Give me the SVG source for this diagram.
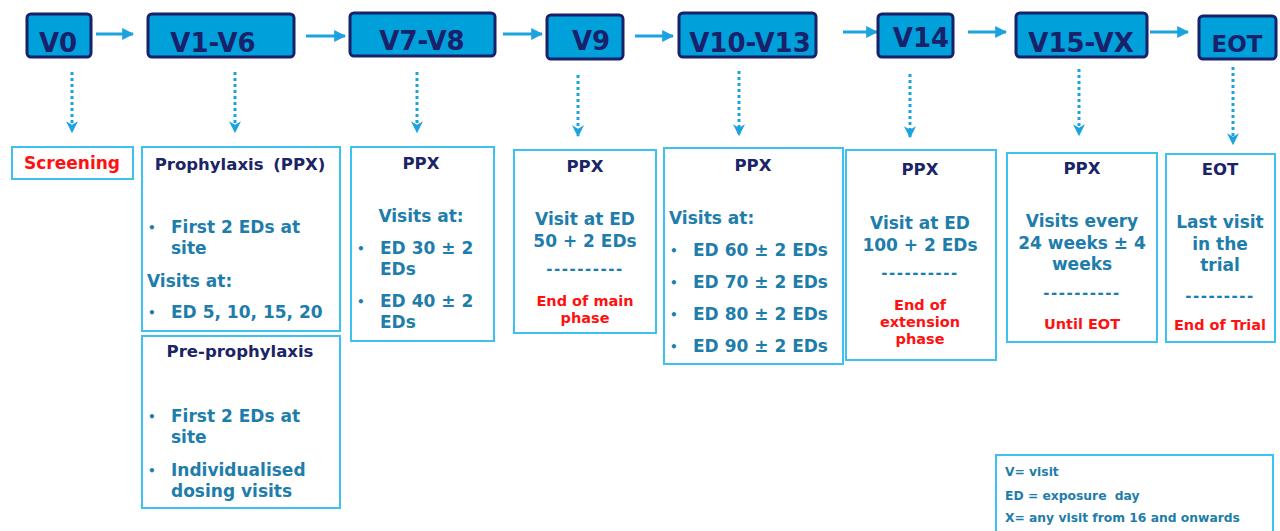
<svg xmlns="http://www.w3.org/2000/svg" width="1280" height="531" viewBox="0 0 1280 531">
  <style>
    text { font-family: "DejaVu Sans", Verdana, sans-serif; font-weight: bold; }
    .visit rect { fill: #00A0DA; stroke: #19216B; stroke-width: 3; }
    .visit text { fill: #19216B; font-size: 26px; text-anchor: middle; }
    .card { fill: #ffffff; stroke: #3DC1F0; stroke-width: 2; }
    .title { fill: #1B2466; font-size: 16.5px; text-anchor: middle; }
    .body { fill: #1E7DAA; font-size: 17px; }
    .mid { text-anchor: middle; }
    .red { fill: #FF1111; font-size: 14.5px; text-anchor: middle; }
    .dot { fill: #1E7DAA; font-size: 12px; }
    .sep { fill: #1E7DAA; font-size: 15px; letter-spacing: 1.5px; text-anchor: middle; }
    .legend { fill: #1E7DAA; font-size: 12.3px; }
    .flow { stroke: #1AA3DE; stroke-width: 3; fill: none; }
    .drop { stroke: #1AA3DE; stroke-width: 3; fill: none; stroke-dasharray: 3 3; }
  </style>
  <defs>
    <marker id="head" viewBox="0 0 10 10" refX="9" refY="5" markerWidth="4" markerHeight="4" orient="auto" markerUnits="strokeWidth">
      <path d="M0,0 L10,5 L0,10 z" fill="#1AA3DE"/>
    </marker>
    <marker id="dhead" viewBox="0 0 10 10" refX="9" refY="5" markerWidth="4" markerHeight="4" orient="auto" markerUnits="strokeWidth">
      <path d="M0,0 L10,5 L0,10 L3,5 z" fill="#1AA3DE"/>
    </marker>
  </defs>

  <rect width="1280" height="531" fill="#ffffff"/>

  <!-- connectors -->
  <g id="connectors">
    <line class="flow" x1="96" y1="34" x2="133" y2="34" marker-end="url(#head)"/>
    <line class="flow" x1="306" y1="36" x2="345" y2="36" marker-end="url(#head)"/>
    <line class="flow" x1="503" y1="34" x2="542" y2="34" marker-end="url(#head)"/>
    <line class="flow" x1="635" y1="36" x2="673" y2="36" marker-end="url(#head)"/>
    <line class="flow" x1="843" y1="32" x2="877" y2="32" marker-end="url(#head)"/>
    <line class="flow" x1="968" y1="32" x2="1006" y2="32" marker-end="url(#head)"/>
    <line class="flow" x1="1150" y1="32" x2="1188" y2="32" marker-end="url(#head)"/>

    <line class="drop" x1="72" y1="72" x2="72" y2="132" marker-end="url(#dhead)"/>
    <line class="drop" x1="235" y1="72" x2="235" y2="132" marker-end="url(#dhead)"/>
    <line class="drop" x1="417" y1="72" x2="417" y2="132" marker-end="url(#dhead)"/>
    <line class="drop" x1="578" y1="75" x2="578" y2="136" marker-end="url(#dhead)"/>
    <line class="drop" x1="739" y1="71" x2="739" y2="135" marker-end="url(#dhead)"/>
    <line class="drop" x1="910" y1="74" x2="910" y2="137" marker-end="url(#dhead)"/>
    <line class="drop" x1="1079" y1="69" x2="1079" y2="135" marker-end="url(#dhead)"/>
    <line class="drop" x1="1233" y1="67" x2="1233" y2="144" marker-end="url(#dhead)"/>
  </g>

  <!-- visit headers -->
  <g id="v0" class="visit">
    <rect x="27" y="14" width="64" height="43" rx="4"/>
    <text x="58" y="52">V0</text>
  </g>
  <g id="v1-v6" class="visit">
    <rect x="148" y="14" width="146" height="43" rx="4"/>
    <text x="213" y="52">V1-V6</text>
  </g>
  <g id="v7-v8" class="visit">
    <rect x="350" y="13" width="145" height="43" rx="4"/>
    <text x="422" y="50">V7-V8</text>
  </g>
  <g id="v9" class="visit">
    <rect x="547" y="15" width="76" height="44" rx="4"/>
    <text x="591" y="50">V9</text>
  </g>
  <g id="v10-v13" class="visit">
    <rect x="679" y="13" width="137" height="44" rx="4"/>
    <text x="750" y="52">V10-V13</text>
  </g>
  <g id="v14" class="visit">
    <rect x="878" y="14" width="75" height="43" rx="4"/>
    <text x="921" y="47">V14</text>
  </g>
  <g id="v15-vx" class="visit">
    <rect x="1016" y="13" width="131" height="44" rx="4"/>
    <text x="1081" y="52">V15-VX</text>
  </g>
  <g id="eot" class="visit">
    <rect x="1199" y="16" width="77" height="43" rx="4"/>
    <text x="1237" y="52" style="font-size:23px">EOT</text>
  </g>

  <!-- screening -->
  <g id="screening">
    <rect class="card" x="12" y="147" width="121" height="32"/>
    <text x="72" y="169" style="fill:#FF1111;font-size:17px;text-anchor:middle">Screening</text>
  </g>

  <!-- prophylaxis V1-V6 -->
  <g id="prophylaxis">
    <rect class="card" x="142" y="147" width="198" height="184"/>
    <text class="title" x="240" y="170">Prophylaxis <tspan dx="4">(PPX)</tspan></text>
    <text class="dot" x="148" y="232">•</text>
    <text class="body" x="171" y="233">First 2 EDs at</text>
    <text class="body" x="171" y="254">site</text>
    <text class="body" x="147" y="287">Visits at:</text>
    <text class="dot" x="148" y="317">•</text>
    <text class="body" x="171" y="318">ED 5, 10, 15, 20</text>
  </g>

  <!-- pre-prophylaxis -->
  <g id="pre-prophylaxis">
    <rect class="card" x="142" y="336" width="198" height="172"/>
    <text class="title" x="240" y="357">Pre-prophylaxis</text>
    <text class="dot" x="148" y="421">•</text>
    <text class="body" x="171" y="422">First 2 EDs at</text>
    <text class="body" x="171" y="443">site</text>
    <text class="dot" x="148" y="475">•</text>
    <text class="body" x="171" y="476">Individualised</text>
    <text class="body" x="171" y="497">dosing visits</text>
  </g>

  <!-- PPX V7-V8 -->
  <g id="ppx-v7-v8">
    <rect class="card" x="351" y="147" width="143" height="194"/>
    <text class="title" x="421" y="169">PPX</text>
    <text class="body mid" x="421" y="222">Visits at:</text>
    <text class="dot" x="357" y="253">•</text>
    <text class="body" x="380" y="254">ED 30 ± 2</text>
    <text class="body" x="380" y="275">EDs</text>
    <text class="dot" x="357" y="306">•</text>
    <text class="body" x="380" y="307">ED 40 ± 2</text>
    <text class="body" x="380" y="328">EDs</text>
  </g>

  <!-- PPX V9 -->
  <g id="ppx-v9">
    <rect class="card" x="514" y="150" width="142" height="183"/>
    <text class="title" x="585" y="172">PPX</text>
    <text class="body mid" x="585" y="225">Visit at ED</text>
    <text class="body mid" x="585" y="247">50 + 2 EDs</text>
    <text class="sep" x="585" y="274">----------</text>
    <text class="red" x="585" y="306">End of main</text>
    <text class="red" x="585" y="323">phase</text>
  </g>

  <!-- PPX V10-V13 -->
  <g id="ppx-v10-v13">
    <rect class="card" x="664" y="148" width="179" height="216"/>
    <text class="title" x="753" y="171">PPX</text>
    <text class="body" x="669" y="224">Visits at:</text>
    <text class="dot" x="670" y="255">•</text>
    <text class="body" x="693" y="256">ED 60 ± 2 EDs</text>
    <text class="dot" x="670" y="287">•</text>
    <text class="body" x="693" y="288">ED 70 ± 2 EDs</text>
    <text class="dot" x="670" y="319">•</text>
    <text class="body" x="693" y="320">ED 80 ± 2 EDs</text>
    <text class="dot" x="670" y="351">•</text>
    <text class="body" x="693" y="352">ED 90 ± 2 EDs</text>
  </g>

  <!-- PPX V14 -->
  <g id="ppx-v14">
    <rect class="card" x="846" y="150" width="150" height="210"/>
    <text class="title" x="920" y="175">PPX</text>
    <text class="body mid" x="920" y="229">Visit at ED</text>
    <text class="body mid" x="920" y="251">100 + 2 EDs</text>
    <text class="sep" x="920" y="278">----------</text>
    <text class="red" x="920" y="310">End of</text>
    <text class="red" x="920" y="327">extension</text>
    <text class="red" x="920" y="344">phase</text>
  </g>

  <!-- PPX V15-VX -->
  <g id="ppx-v15-vx">
    <rect class="card" x="1007" y="153" width="150" height="189"/>
    <text class="title" x="1082" y="174">PPX</text>
    <text class="body mid" x="1082" y="227">Visits every</text>
    <text class="body mid" x="1082" y="249">24 weeks ± 4</text>
    <text class="body mid" x="1082" y="270">weeks</text>
    <text class="sep" x="1082" y="298">----------</text>
    <text class="red" x="1082" y="329">Until EOT</text>
  </g>

  <!-- EOT -->
  <g id="eot-card">
    <rect class="card" x="1166" y="154" width="109" height="188"/>
    <text class="title" x="1220" y="175">EOT</text>
    <text class="body mid" x="1220" y="228">Last visit</text>
    <text class="body mid" x="1220" y="250">in the</text>
    <text class="body mid" x="1220" y="271">trial</text>
    <text class="sep" x="1220" y="301">---------</text>
    <text class="red" x="1220" y="330">End of Trial</text>
  </g>

  <!-- legend -->
  <g id="legend">
    <rect class="card" x="996" y="455" width="277" height="90"/>
    <text class="legend" x="1005" y="476">V= visit</text>
    <text class="legend" x="1005" y="500">ED = exposure <tspan dx="4">day</tspan></text>
    <text class="legend" x="1005" y="522">X= any visit from 16 and onwards</text>
  </g>
</svg>
